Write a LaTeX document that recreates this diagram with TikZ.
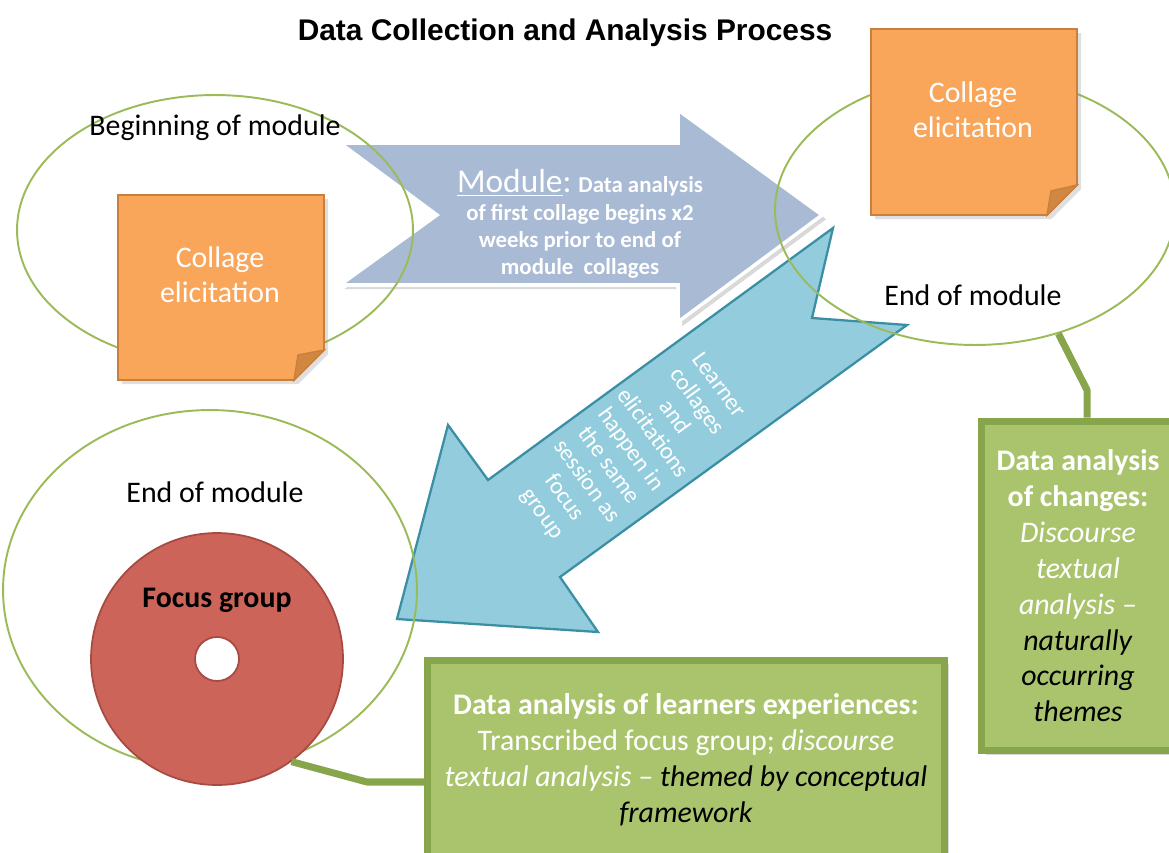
\documentclass[tikz,border=0pt]{standalone}
\usepackage{fontspec}
\setmainfont{Carlito}
\newfontfamily\titlefont{Liberation Sans}
\usetikzlibrary{shapes.geometric,shadows}

\definecolor{ringgreen}{HTML}{9BBB59}
\definecolor{noteorange}{HTML}{F9A55A}
\definecolor{noteedge}{HTML}{C9803E}
\definecolor{notefold}{HTML}{D08840}
\definecolor{modgrey}{HTML}{A8BAD4}
\definecolor{flowcyan}{HTML}{93CDDD}
\definecolor{flowedge}{HTML}{3B8FA5}
\definecolor{focusred}{HTML}{CD645A}
\definecolor{focusedge}{HTML}{A64A42}
\definecolor{boxgreen}{HTML}{AAC46D}
\definecolor{boxedge}{HTML}{87A54B}

\tikzset{
  ring/.style={ellipse, draw=ringgreen, line width=1.1pt},
  plainlbl/.style={font=\fontsize{17}{20}\selectfont},
  notetext/.style={text=white, align=center, font=\fontsize{17}{20}\selectfont},
  findbox/.style={rectangle, fill=boxgreen, draw=boxedge, line width=4pt,
    drop shadow={opacity=0.3}, align=center, text=white,
    font=\fontsize{17}{20.4}\selectfont},
  link/.style={draw=boxedge, line width=4pt, line join=round}
}

\begin{document}
\begin{tikzpicture}[x=0.02cm, y=-0.02cm]

\useasboundingbox (0,0) rectangle (1169,852);

\node[font=\titlefont\bfseries\fontsize{17}{20}\selectfont] (title) at (565,33) {Data Collection and Analysis Process};

% the two big arrows, rings are drawn over them
\draw[fill=modgrey, draw=white, line width=2pt, drop shadow={opacity=0.3}] (340,143) -- (678,143) -- (678,110) -- (822,215) -- (678,322) -- (678,285) -- (340,285) -- (437,215) -- cycle;

\draw[fill=flowcyan, draw=flowedge, line width=1.3pt] (833,228) -- (812,318) -- (907,325) -- (560,577) -- (598,632) -- (397,619) -- (448,425) -- (488,480) -- cycle;

\node[text=white, align=center, font=\bfseries\fontsize{13}{15.5}\selectfont] (modtext) at (580,224) {{\mdseries\fontsize{19}{22}\selectfont\underline{Module}:} Data analysis\\of first collage begins x2\\weeks prior to end of\\module\ \ collages};

\node[text=white, align=center, rotate=-54, font=\fontsize{13.5}{15.5}\selectfont] (flowtext) at (630,450) {Learner\\collages\\and\\elicitations\\happen in\\the same\\session as\\focus\\group};

% rings
\node[ring, minimum width=7.92cm, minimum height=5.4cm] (startR) at (215,230) {};
\node[ring, minimum width=8cm, minimum height=5.4cm] (endR) at (975,210) {};
\node[ring, minimum width=8.28cm, minimum height=7.2cm] (endL) at (210,590) {};

\node[plainlbl] (startlbl) at (215,128) {Beginning of module};
\node[plainlbl] (endRlbl) at (973,295) {End of module};
\node[plainlbl] (endLlbl) at (215,492) {End of module};

% sticky notes
\draw[fill=noteorange, draw=noteedge, line width=1pt, drop shadow={opacity=0.25}] (118,195) -- (324,195) -- (324,350) -- (294,380) -- (118,380) -- cycle;
\filldraw[fill=notefold, draw=noteedge, line width=0.8pt] (324,350) -- (298,355) -- (294,380) -- cycle;
\node[notetext] (noteL) at (220,275) {Collage\\elicitation};

\draw[fill=noteorange, draw=noteedge, line width=1pt, drop shadow={opacity=0.25}] (871,29) -- (1077,29) -- (1077,185) -- (1047,215) -- (871,215) -- cycle;
\filldraw[fill=notefold, draw=noteedge, line width=0.8pt] (1077,185) -- (1051,191) -- (1047,215) -- cycle;
\node[notetext] (noteR) at (973,110) {Collage\\elicitation};

% focus group disc
\node[circle, fill=focusred, draw=focusedge, line width=1pt, minimum size=5.04cm] (focus) at (217,659) {};
\node[circle, fill=white, draw=focusedge, line width=1pt, minimum size=0.88cm] (hole) at (217,659) {};
\node[font=\bfseries\fontsize{17}{20}\selectfont] (focuslbl) at (217,600) {Focus group};

% findings boxes
\node[findbox, minimum width=3.86cm, minimum height=6.6cm] (chg) at (1078,586) {\textbf{Data analysis}\\\textbf{of changes:}\\\textit{Discourse}\\\textit{textual}\\\textit{analysis --}\\\textcolor{black}{\textit{naturally}}\\\textcolor{black}{\textit{occurring}}\\\textcolor{black}{\textit{themes}}};

\node[findbox, minimum width=10.34cm, minimum height=4cm] (fnd) at (686,760) {\textbf{Data analysis of learners experiences:}\\Transcribed focus group; \textit{discourse}\\\textit{textual analysis --} \textcolor{black}{\textit{themed by conceptual}}\\\textcolor{black}{\textit{framework}}};

\coordinate (kneeE) at (1087,390);
\draw[link] (endR.-56) -- (kneeE) -- (kneeE |- chg.north);

\coordinate (kneeF) at (367,782);
\draw[link] (focus.-54) -- (kneeF) -- (kneeF -| fnd.west);

\end{tikzpicture}
\end{document}
